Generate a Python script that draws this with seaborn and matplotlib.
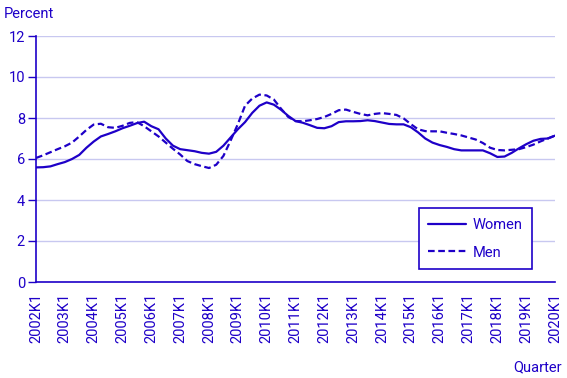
import matplotlib
matplotlib.use("Agg")
import matplotlib.pyplot as plt
import seaborn as sns
import pandas as pd
import numpy as np

years = list(range(2002, 2021))
quarters = [f"{y}K{q}" for y in range(2002, 2021) for q in range(1, 5)][:73]

women = [5.59, 5.60, 5.64, 5.75, 5.85, 6.0, 6.2, 6.55, 6.85, 7.1, 7.22, 7.35, 7.5, 7.62, 7.75, 7.82,
         7.6, 7.45, 7.0, 6.65, 6.48, 6.43, 6.38, 6.3, 6.26, 6.35, 6.65, 7.05, 7.45, 7.8, 8.25, 8.6,
         8.76, 8.65, 8.4, 8.1, 7.85, 7.77, 7.65, 7.52, 7.5, 7.6, 7.8, 7.84, 7.84, 7.85, 7.89, 7.85,
         7.78, 7.71, 7.69, 7.69, 7.55, 7.3, 7.0, 6.8, 6.68, 6.59, 6.48, 6.42, 6.42, 6.42, 6.42, 6.28,
         6.1, 6.12, 6.3, 6.52, 6.72, 6.89, 6.98, 7.0, 7.14]
men = [6.05, 6.18, 6.33, 6.48, 6.62, 6.8, 7.1, 7.42, 7.68, 7.72, 7.55, 7.52, 7.62, 7.76, 7.8, 7.6,
       7.35, 7.1, 6.8, 6.5, 6.22, 5.9, 5.75, 5.65, 5.56, 5.72, 6.15, 6.9, 7.7, 8.6, 8.95, 9.14,
       9.1, 8.9, 8.45, 8.05, 7.85, 7.84, 7.89, 7.95, 8.05, 8.2, 8.38, 8.41, 8.3, 8.2, 8.13, 8.2,
       8.24, 8.2, 8.15, 7.98, 7.7, 7.45, 7.36, 7.35, 7.35, 7.28, 7.22, 7.15, 7.05, 6.95, 6.78, 6.55,
       6.44, 6.42, 6.45, 6.48, 6.58, 6.7, 6.86, 7.0, 7.14]
year_labels = [f"{y}K1" for y in years]

BLUE = "#1E00C8"
GRID = "#C8C8F0"

sns.set_theme(style="white")
plt.rcParams["font.family"] = ["Roboto", "DejaVu Sans"]

df = pd.DataFrame({
    "idx": list(range(len(quarters))) * 2,
    "value": women + men,
    "series": ["Women"] * len(women) + ["Men"] * len(men),
})

fig = plt.figure(figsize=(5.67, 3.78), dpi=100)
ax = fig.add_axes([36 / 567, 1 - 282 / 378, (555 - 36) / 567, (282 - 36) / 378])

sns.lineplot(data=df, x="idx", y="value", hue="series", style="series",
             palette={"Women": BLUE, "Men": BLUE},
             dashes={"Women": "", "Men": (3, 1.6)}, linewidth=1.6, ax=ax, legend=False)

ax.set_xlim(0, 72)
ax.set_ylim(0, 12)
ax.set_yticks(range(0, 13, 2))
ax.set_yticklabels([str(v) for v in range(0, 13, 2)], color=BLUE, fontsize=10.5)
ax.set_xticks([i * 4 for i in range(len(years))])
ax.set_xticklabels(year_labels, rotation=90, color=BLUE, fontsize=10.5)
ax.set_xticks([i * 12 for i in range(7)], minor=True)
ax.tick_params(axis="x", which="major", length=0, pad=8)
ax.tick_params(axis="x", which="minor", length=6, color=BLUE, width=1)
ax.tick_params(axis="y", length=6, color=BLUE, width=1, direction="out", left=True, pad=2)
ax.yaxis.grid(True, color=GRID, linewidth=1)
ax.set_axisbelow(True)
for s in ["top", "right"]:
    ax.spines[s].set_visible(False)
for s in ["left", "bottom"]:
    ax.spines[s].set_color(BLUE)
    ax.spines[s].set_linewidth(1.2)
ax.set_xlabel("")
ax.set_ylabel("")

fig.text(4 / 567, 1 - 14 / 378, "Percent", color=BLUE, fontsize=10.5, va="center", ha="left")
fig.text(562 / 567, 1 - 367 / 378, "Quarter", color=BLUE, fontsize=10.5, va="center", ha="right")

from matplotlib.lines import Line2D
handles = [Line2D([], [], color=BLUE, lw=1.6),
           Line2D([], [], color=BLUE, lw=1.6, ls=(0, (3, 1.6)))]
leg = ax.legend(handles, ["Women", "Men"], loc="lower right",
                bbox_to_anchor=(532 / 567, 1 - 269 / 378), bbox_transform=fig.transFigure,
                frameon=True, fancybox=False, fontsize=10.5, labelcolor=BLUE,
                handlelength=2.6, handletextpad=0.45, borderpad=0.65, labelspacing=0.95,
                borderaxespad=0)
leg.get_frame().set_edgecolor(BLUE)
leg.get_frame().set_linewidth(1.2)
leg.get_frame().set_facecolor("white")
leg.get_frame().set_alpha(1)

fig.savefig("out.png", dpi=100)
